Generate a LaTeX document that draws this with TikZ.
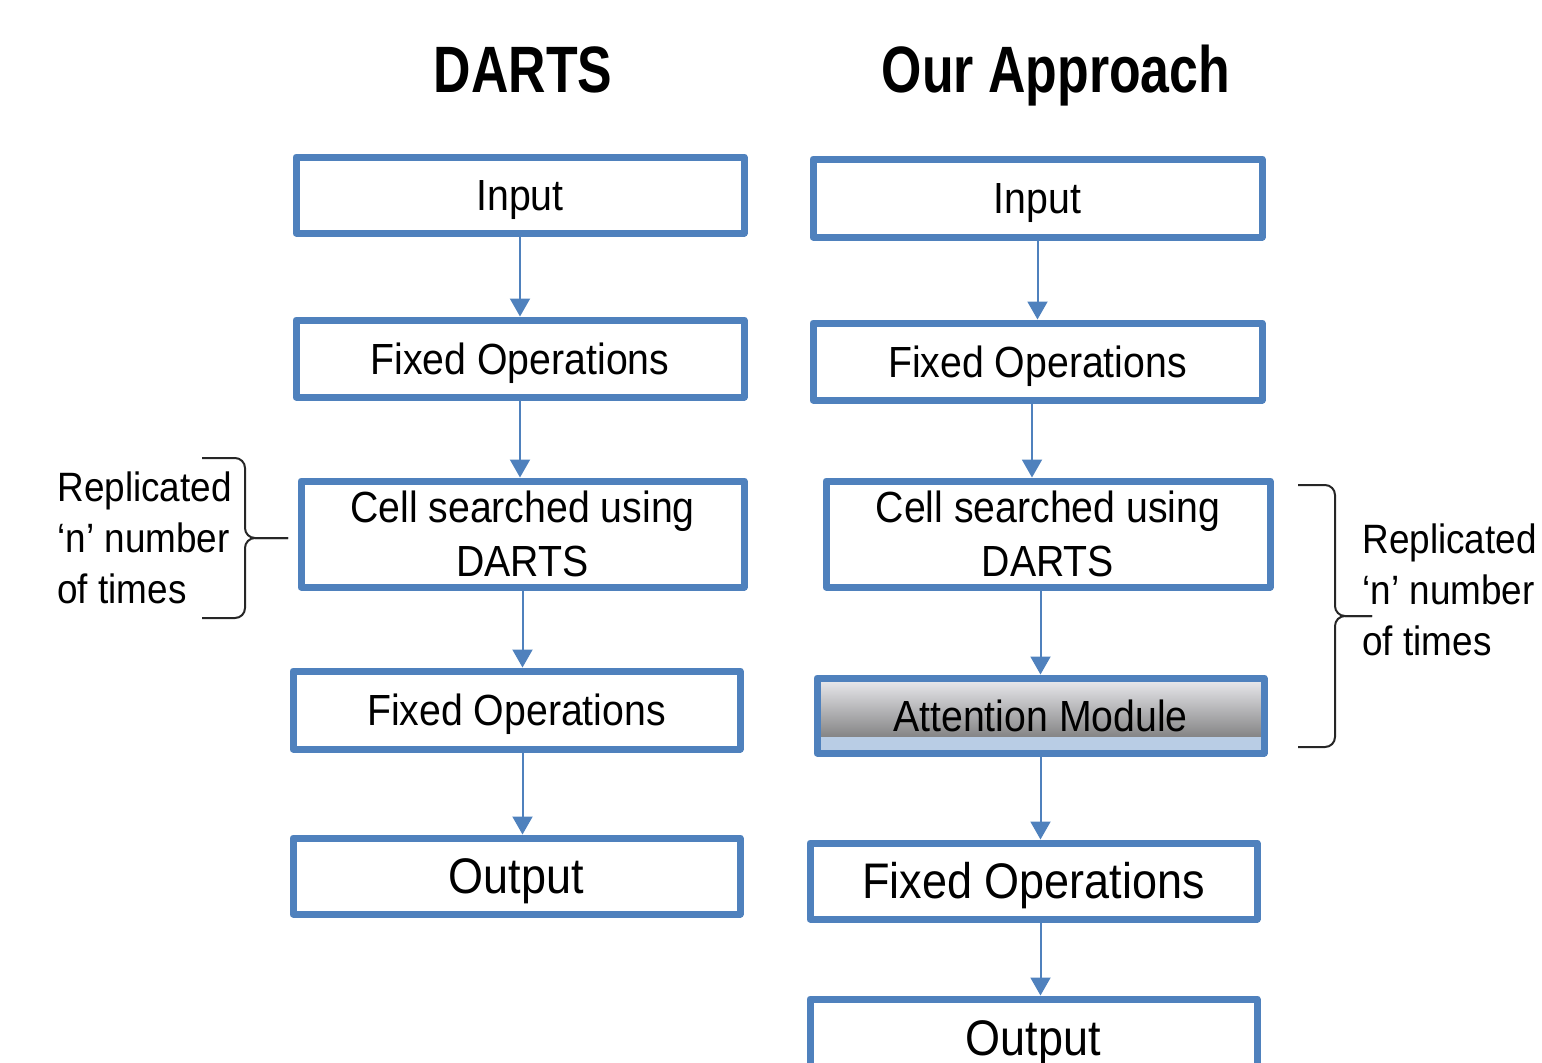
\documentclass[tikz,border=0pt]{standalone}
\usepackage{fontspec}
\setmainfont{Liberation Sans}[FakeStretch=0.9]
\newfontfamily\headfont{Liberation Sans}[FakeStretch=0.79]
\usetikzlibrary{arrows.meta}
\definecolor{boxblue}{RGB}{79,129,189}
\definecolor{stripblue}{RGB}{185,205,229}
\definecolor{shadetop}{RGB}{236,236,240}
\definecolor{shadebot}{RGB}{104,104,104}

\begin{document}
\begin{tikzpicture}[x = 0.5pt, y = -0.5pt,
        block/.style = {draw = boxblue, line width = 3.5pt, line join = round, fill = white,
            inner sep = 0pt, align = center, font = \fontsize{21.8}{27}\selectfont},
        single/.style = {text height = 15.6pt, text depth = 0pt},
        bigtext/.style = {font = \fontsize{25}{30}\selectfont, text height = 17.9pt, text depth = 0pt},
        link/.style = {boxblue, line width = 1pt, -{Triangle[width = 10pt, length = 9pt]}},
        note/.style = {anchor = west, align = left, inner sep = 0pt, font = \fontsize{20.5}{25.5}\selectfont},
        title/.style = {anchor = base, font = \headfont\fontsize{32.8}{36}\bfseries},
        brace/.style = {black!85, line width = 1pt, rounded corners = 5pt}]
            \useasboundingbox (0,0) rectangle (1542,1062);
            \clip (0,0) rectangle (1542,1062);
            \node[title] (ttlL) at (523,92) {DARTS};
            \node[title] (ttlR) at (1056,92) {Our Approach};
            \node[block, single, minimum width = 224pt, minimum height = 38pt] (inL) at (520,195) {Input};
            \node[block, single, minimum width = 224pt, minimum height = 38.5pt] (fixL1) at (520,358.5) {Fixed Operations};
            \node[block, minimum width = 221.5pt, minimum height = 53pt] (cellL) at (522.5,534) {Cell searched using\\DARTS};
            \node[block, single, minimum width = 223.5pt, minimum height = 39pt] (fixL2) at (516.5,710) {Fixed Operations};
            \node[block, bigtext, minimum width = 223.5pt, minimum height = 38pt] (outL) at (516.5,876) {Output};
            \node[block, single, minimum width = 224.5pt, minimum height = 39pt] (inR) at (1037.5,198) {Input};
            \node[block, single, minimum width = 224.5pt, minimum height = 38.5pt] (fixR1) at (1037.5,361.5) {Fixed Operations};
            \node[block, minimum width = 222pt, minimum height = 53pt] (cellR) at (1048,534) {Cell searched using\\DARTS};
            \node[block, single, minimum width = 223.5pt, minimum height = 37.5pt,
                path picture = {
                    \shade[top color = shadetop, bottom color = shadebot] (path picture bounding box.north west) rectangle ([yshift = 8pt]path picture bounding box.south east);
                    \fill[stripblue] ([yshift = 8pt]path picture bounding box.south west) rectangle (path picture bounding box.south east);
                }] (attR) at (1040.5,715.5) {Attention Module};
            \node[block, bigtext, minimum width = 223.5pt, minimum height = 38pt] (fixR2) at (1033.5,881) {Fixed Operations};
            \node[block, bigtext, minimum width = 223.5pt, minimum height = 39pt] (outR) at (1033.5,1038) {Output};
            \draw[link] (inL.south) -- (inL.south |- fixL1.north);
            \draw[link] (fixL1.south) -- (fixL1.south |- cellL.north);
            \draw[link] (cellL.south) -- (cellL.south |- fixL2.north);
            \draw[link] (cellL.south |- fixL2.south) -- (cellL.south |- outL.north);
            \draw[link] (inR.south) -- (inR.south |- fixR1.north);
            \draw[link] ([xshift = -2.75pt]fixR1.south) -- ([xshift = -2.75pt]fixR1.south |- cellR.north);
            \draw[link] (attR.north |- cellR.south) -- (attR.north);
            \draw[link] (attR.south) -- (attR.south |- fixR2.north);
            \draw[link] (attR.south |- fixR2.south) -- (attR.south |- outR.north);
            \coordinate (bLtop) at (202,458);
            \coordinate (bLbot) at (202,618);
            \coordinate (bLtip) at (288,538);
            \draw[brace] (bLtop) -- (245,458) -- (245,538) -- (bLtip);
            \draw[brace] (bLbot) -- (245,618) -- (245,538) -- (bLtip);
            \coordinate (bRtop) at (1298,485);
            \coordinate (bRbot) at (1298,747);
            \coordinate (bRtip) at (1372,616);
            \draw[brace] (bRtop) -- (1335,485) -- (1335,616) -- (bRtip);
            \draw[brace] (bRbot) -- (1335,747) -- (1335,616) -- (bRtip);
            \node[note] (repL) at (57,538) {Replicated\\‘n’ number\\of times};
            \node[note] (repR) at (1362,590) {Replicated\\‘n’ number\\of times};
        \end{tikzpicture}
\end{document}
